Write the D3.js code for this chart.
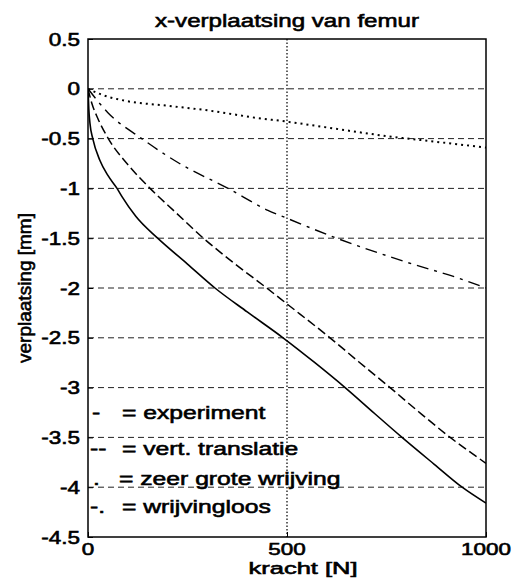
<!DOCTYPE html>
<html><head><meta charset="utf-8">
<script src="https://cdn.jsdelivr.net/npm/d3@7"></script>
<style>body{margin:0;background:#fff}</style>
</head><body><svg id="c" width="515" height="578"></svg>
<script>
const title = "x-verplaatsing van femur";
const xLabel = "kracht [N]";
const yLabel = "verplaatsing [mm]";
const xTicks = [0, 500, 1000];
const yTicks = [0.5, 0, -0.5, -1, -1.5, -2, -2.5, -3, -3.5, -4, -4.5];
const yTickLabels = ["0.5","0","-0.5","-1","-1.5","-2","-2.5","-3","-3.5","-4","-4.5"];

const forceExperiment = [0, 2, 5, 12, 30, 50, 73, 85, 120, 175, 250, 319, 400, 490, 570, 646, 720, 789, 870, 940, 1000];
const experiment = [0, -0.2, -0.35, -0.5, -0.72, -0.87, -1.0, -1.08, -1.28, -1.5, -1.76, -2.0, -2.24, -2.5, -2.75, -3.0, -3.26, -3.5, -3.77, -4.0, -4.16];

const forceVert = [0, 10, 25, 51, 100, 156, 220, 290, 370, 449, 500, 608, 680, 759, 830, 910, 1000];
const vertTranslatie = [0, -0.15, -0.3, -0.5, -0.76, -1.0, -1.24, -1.5, -1.76, -2.0, -2.16, -2.5, -2.74, -3.0, -3.24, -3.5, -3.76];

const forceGrote = [0, 35, 93, 200, 307, 420, 500, 620, 741, 870, 1000];
const zeerGroteWrijving = [0, -0.06, -0.12, -0.17, -0.22, -0.29, -0.33, -0.40, -0.47, -0.53, -0.59];

const forceLoos = [0, 50, 135, 230, 352, 452, 500, 625, 800, 930, 1000];
const wrijvingloos = [0, -0.24, -0.5, -0.75, -1.0, -1.22, -1.3, -1.5, -1.74, -1.9, -2.0];

const legendMarks = ["-", "--", ".", "-."];
const legendLabels = ["= experiment", "= vert. translatie", "= zeer grote wrijving", "= wrijvingloos"];

const svg = d3.select("#c");
const L = 88, R = 486, T = 39, B = 537;
const x = d3.scaleLinear().domain([0, 1000]).range([L, R]);
const y = d3.scaleLinear().domain([-4.5, 0.5]).range([B, T]);
const FONT = "'Liberation Sans', Arial, sans-serif";

function txt(g, s, px, py, anchor, size, sx) {
  return g.append("text")
    .attr("transform", `translate(${px},${py}) scale(${sx},1)`)
    .attr("text-anchor", anchor)
    .attr("font-family", FONT).attr("font-size", size)
    .attr("fill", "#000").attr("stroke", "#000").attr("stroke-width", 0.6)
    .text(s);
}

// gridlines
svg.append("g").selectAll("line").data(yTicks.filter(v => v < 0.5 && v > -4.5)).join("line")
  .attr("x1", L).attr("x2", R).attr("y1", d => y(d)).attr("y2", d => y(d))
  .attr("stroke", "#222").attr("stroke-width", 1).attr("stroke-dasharray", "6,4");
svg.append("line").attr("x1", x(500)).attr("x2", x(500)).attr("y1", T).attr("y2", B)
  .attr("stroke", "#111").attr("stroke-width", 1.3).attr("stroke-dasharray", "1.5,2");

// axes via d3
const xAxis = d3.axisBottom(x).tickValues(xTicks).tickSize(-5).tickFormat("");
const yAxis = d3.axisLeft(y).tickValues(yTicks).tickSize(-5).tickFormat("");
const gx = svg.append("g").attr("transform", `translate(0,${B})`).call(xAxis);
const gy = svg.append("g").attr("transform", `translate(${L},0)`).call(yAxis);
[gx, gy].forEach(g => { g.select(".domain").remove(); g.selectAll("line").attr("stroke", "#000"); });

// frame
svg.append("rect").attr("x", L).attr("y", T).attr("width", R - L).attr("height", B - T)
  .attr("fill", "none").attr("stroke", "#000").attr("stroke-width", 1.5);

// tick labels
yTicks.forEach((v, i) => txt(svg, yTickLabels[i], 80, y(v) + 6.5, "end", 18, 1.25));
xTicks.forEach(v => txt(svg, String(v), x(v), 554.5, "middle", 17, 1.32));

// titles
txt(svg, title, 287, 27, "middle", 19, 1.27);
txt(svg, xLabel, 303, 574, "middle", 17, 1.5);
svg.append("text").attr("transform", `translate(31,288) rotate(-90)`)
  .attr("text-anchor", "middle").attr("font-family", FONT).attr("font-size", 19)
  .attr("fill", "#000").attr("stroke", "#000").attr("stroke-width", 0.6).text(yLabel);

// data lines
const line = d3.line().x(d => x(d[0])).y(d => y(d[1])).curve(d3.curveMonotoneX);
const series = [
  {f: forceExperiment, v: experiment, dash: null, w: 1.6},
  {f: forceVert, v: vertTranslatie, dash: "9,4", w: 1.5},
  {f: forceGrote, v: zeerGroteWrijving, dash: "2,4", w: 2},
  {f: forceLoos, v: wrijvingloos, dash: "12,6,3,6", w: 1.4}
];
svg.append("clipPath").attr("id", "pc").append("rect")
  .attr("x", L).attr("y", T).attr("width", R - L).attr("height", B - T);
series.forEach(s => {
  svg.append("path").datum(d3.zip(s.f, s.v)).attr("d", line)
    .attr("fill", "none").attr("stroke", "#000").attr("stroke-width", s.w)
    .attr("stroke-dasharray", s.dash).attr("clip-path", "url(#pc)");
});

// legend (text inside plot)
const legY = [419, 455, 485, 513];
const markX = [92, 90, 93, 90];
legendLabels.forEach((s, i) => {
  txt(svg, legendMarks[i], markX[i], legY[i], "start", 19, 1.3);
  txt(svg, s, i === 2 ? 119 : 122, legY[i], "start", 19, 1.3);
});
</script></body></html>
